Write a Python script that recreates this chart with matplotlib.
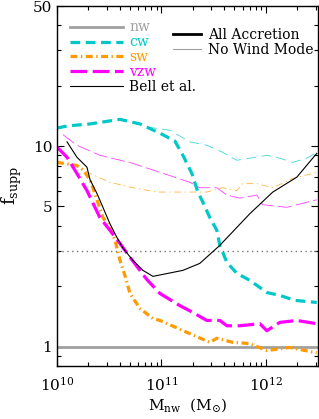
import numpy as np
import matplotlib
matplotlib.use("Agg")
import matplotlib.pyplot as plt
from matplotlib.ticker import FixedLocator, NullFormatter, LogFormatterSciNotation, FuncFormatter

plt.rcParams['font.family'] = 'DejaVu Serif'
plt.rcParams['mathtext.fontset'] = 'dejavuserif'
plt.rcParams['lines.scale_dashes'] = False

# log10(M_nw / Msun) and f_supp
cw_logm = [10.0, 10.096, 10.316, 10.603, 10.794, 10.986, 11.129, 11.206, 11.292, 11.349,
           11.397, 11.464, 11.531, 11.560, 11.627, 11.722, 11.847, 12.010, 12.134, 12.278, 12.488]
cw_f = [12.3, 12.6, 12.9, 13.6, 12.9, 11.6, 10.6, 9.0, 7.3, 5.9,
        5.25, 4.4, 3.8, 3.2, 2.63, 2.32, 2.14, 1.86, 1.80, 1.70, 1.66]

sw_logm = [10.0, 10.191, 10.249, 10.316, 10.383, 10.440, 10.507, 10.555, 10.603, 10.651, 10.699,
           10.794, 10.919, 10.986, 11.273, 11.464, 11.531, 11.684, 11.847, 12.010, 12.230, 12.488]
sw_f = [8.3, 8.0, 7.6, 6.8, 5.4, 4.4, 3.9, 3.4, 2.7, 2.26, 1.84,
        1.55, 1.38, 1.35, 1.16, 1.05, 1.10, 1.05, 1.035, 0.955, 0.99, 0.93]

vzw_logm = [10.0, 10.096, 10.191, 10.287, 10.344, 10.411, 10.507, 10.603, 10.699, 10.794, 10.861,
            10.986, 11.177, 11.301, 11.435, 11.560, 11.627, 11.751, 11.943, 12.010, 12.134, 12.297, 12.488]
vzw_f = [9.9, 8.8, 7.3, 6.0, 5.2, 4.4, 3.8, 3.27, 2.79, 2.40, 2.16,
         1.84, 1.60, 1.48, 1.35, 1.35, 1.27, 1.27, 1.30, 1.20, 1.32, 1.35, 1.30]

bell_logm = [10.096, 10.191, 10.287, 10.316, 10.383, 10.440, 10.507, 10.574, 10.632, 10.727,
             10.823, 10.919, 11.206, 11.368, 11.560, 11.847, 12.067, 12.297, 12.488]
bell_f = [10.5, 8.8, 7.85, 6.8, 5.8, 4.95, 4.1, 3.5, 3.1, 2.69,
          2.40, 2.24, 2.40, 2.60, 3.2, 4.6, 5.9, 7.0, 9.2]

nw_logm = [10.0, 12.5]
nw_f = [1.0, 1.0]

# no wind mode (thin lines)
cw0_logm = [10.0, 10.096, 10.316, 10.603, 10.794, 10.89, 11.081, 11.273, 11.435, 11.589,
            11.722, 11.847, 12.010, 12.134, 12.258, 12.392, 12.488]
cw0_f = [12.3, 12.6, 12.9, 13.6, 12.9, 12.4, 12.0, 10.5, 10.1, 9.3,
         8.5, 8.7, 9.0, 8.7, 8.3, 8.7, 9.3]

sw0_logm = [10.0, 10.172, 10.316, 10.507, 10.727, 10.957, 11.177, 11.435, 11.589, 11.722,
            11.780, 11.914, 12.067, 12.258, 12.488]
sw0_f = [8.3, 8.0, 7.3, 6.6, 6.2, 5.9, 5.9, 5.9, 6.2, 6.0,
         6.5, 6.5, 6.2, 6.9, 7.4]

vzw0_logm = [10.057, 10.191, 10.411, 10.727, 10.986, 11.273, 11.368, 11.531, 11.627, 11.751,
             11.914, 11.971, 12.201, 12.488]
vzw0_f = [11.4, 10.1, 9.0, 8.2, 7.4, 6.6, 6.2, 6.2, 5.7, 5.5,
          5.7, 5.1, 4.95, 5.4]

supp_ref = 3.0

c_nw = '#a0a0a0'
c_cw = '#00c8c8'
c_sw = '#ff9a00'
c_vzw = '#ff00ff'

fig = plt.figure(figsize=(3.19, 4.19), dpi=100)
ax = fig.add_axes([57/319, 53/419, 261/319, 360/419])

def M(a):
    return 10 ** np.array(a)

# thin no-wind lines
ax.plot(M(cw0_logm), cw0_f, color=c_cw, lw=0.6, dashes=[7, 4], alpha=0.75)
ax.plot(M(sw0_logm), sw0_f, color=c_sw, lw=0.6, dashes=[5, 2.5, 1, 2.5], alpha=0.75)
ax.plot(M(vzw0_logm), vzw0_f, color=c_vzw, lw=0.6, dashes=[10, 3], alpha=0.75)

ax.axhline(supp_ref, color='#777777', lw=1.0, ls=(0, (1, 2.5)))

l_nw, = ax.plot(M(nw_logm), nw_f, color=c_nw, lw=2.0, label='nw')
l_cw, = ax.plot(M(cw_logm), cw_f, color=c_cw, lw=2.3, dashes=[7, 4], label='cw')
l_sw, = ax.plot(M(sw_logm), sw_f, color=c_sw, lw=2.3, dashes=[5, 2.5, 1, 2.5], label='sw')
l_vzw, = ax.plot(M(vzw_logm), vzw_f, color=c_vzw, lw=2.3, dashes=[12, 4], label='vzw')
l_bell, = ax.plot(M(bell_logm), bell_f, color='black', lw=0.8, label='Bell et al.')

ax.set_xscale('log')
ax.set_yscale('log')
ax.set_xlim(1e10, 10 ** 12.5)
ax.set_ylim(0.8, 50)

ax.yaxis.set_major_locator(FixedLocator([1, 5, 10, 50]))
ax.yaxis.set_minor_locator(FixedLocator([0.8, 0.9, 2, 3, 4, 6, 7, 8, 9, 20, 30, 40]))
ax.yaxis.set_major_formatter(FuncFormatter(lambda v, p: '%g' % v))
ax.yaxis.set_minor_formatter(NullFormatter())
ax.xaxis.set_major_formatter(LogFormatterSciNotation())

ax.tick_params(which='both', direction='in', top=True, right=True, labelsize=11)
ax.tick_params(which='major', length=5, width=0.8)
ax.tick_params(which='minor', length=3, width=0.8)
ax.tick_params(axis='x', pad=7)
for s in ax.spines.values():
    s.set_linewidth(1.0)

ax.set_xlabel(r'$\mathrm{M_{nw}\ \ (M_{\odot})}$', fontsize=11, labelpad=2)
ax.set_ylabel(r'$\mathrm{f_{supp}}$', fontsize=13, labelpad=6)

leg1 = ax.legend(handles=[l_nw, l_cw, l_sw, l_vzw, l_bell], loc='upper left',
                 bbox_to_anchor=(0.05, 0.96), frameon=False, borderpad=0,
                 borderaxespad=0, handlelength=3.8, handletextpad=0.45,
                 labelspacing=0.07, fontsize=10, labelcolor='linecolor')
ax.add_artist(leg1)

h_all, = ax.plot([], [], color='black', lw=2.0)
h_now, = ax.plot([], [], color=c_nw, lw=0.8)
ax.legend([h_all, h_now], ['All Accretion', 'No Wind Mode'], loc='upper left',
          bbox_to_anchor=(0.444, 0.94), frameon=False, borderpad=0,
          borderaxespad=0, handlelength=2.0, handletextpad=0.5,
          labelspacing=0.07, fontsize=10)

fig.savefig('out.png', dpi=100)
